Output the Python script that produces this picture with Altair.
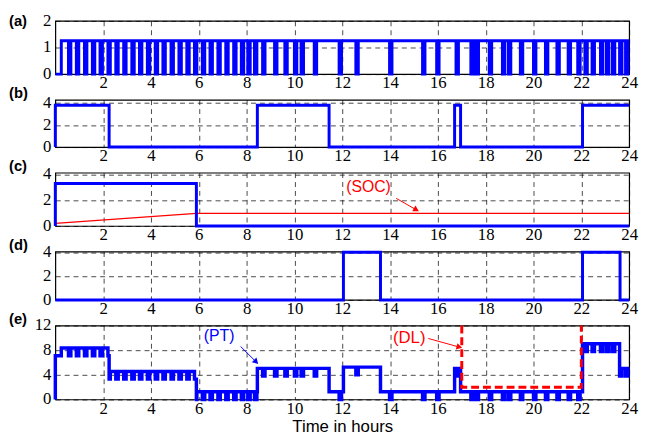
import math
import altair as alt
import pandas as pd

# ---------------- data ----------------
x_ticks = [2, 4, 6, 8, 10, 12, 14, 16, 18, 20, 22, 24]
ya_ticks = [0, 1, 2]
yb_ticks = [0, 2, 4]
yc_ticks = [0, 2, 4]
yd_ticks = [0, 2, 4]
ye_ticks = [0, 4, 8, 12]

# (a) on/off pulse train
a_on_start = 0.25
a_level = 1.25
a_dip = 0.1
a_off = [0.55, 0.88, 1.22, 1.55, 1.87, 2.2, 2.53, 2.86, 3.2, 3.52, 3.85, 4.18,
         4.5, 4.84, 5.17, 5.5, 5.82, 6.15, 6.47, 6.8, 7.13, 7.46, 7.78, 8.05,
         8.33, 8.67, 9.17, 9.6, 10.0, 10.28, 10.83, 11.87, 12.57, 13.98, 15.36,
         15.95, 16.76, 17.38, 17.6, 18.15, 18.7, 18.95, 19.45, 20.0, 20.5,
         20.98, 21.45, 21.85, 22.15, 22.45, 22.8, 23.05, 23.3, 23.6, 23.85]

# (b)
b_t = [0, 0, 2.25, 8.45, 11.45, 16.7, 16.95, 22.05, 24]
b_v = [0, 3.8, 0, 3.8, 0, 3.8, 0, 3.8, 3.8]

# (c) battery power and SOC
c_t = [0, 0, 5.9, 24]
c_v = [0, 3.3, 0, 0]
soc_t = [0, 5.9, 24]
soc_v = [0.2, 0.97, 0.97]

# (d)
d_t = [0, 12.05, 13.6, 22.05, 23.62, 24]
d_v = [0, 4, 0, 4, 0, 0]

# (e) total power PT (segment levels) and demand limit DL
pt_start = [0, 0.25, 2.25, 5.9, 8.45, 11.45, 12.05, 13.6, 16.7, 16.95, 22.05, 23.6]
pt_level = [7.1, 8.35, 4.55, 1.25, 5.05, 1.25, 5.25, 1.25, 5.05, 1.25, 9.05, 5.05]
pt_dip_depth = 1.25
dl_t = [17.0, 17.0, 22.0, 22.0]
dl_v = [12, 2.0, 2.0, 12]

# annotations
soc_label = ("(SOC)", 13.1, 3.0)
soc_arrow = (14.26, 2.14, 15.1, 1.25)
pt_label = ("(PT)", 6.85, 10.3)
pt_arrow = (7.75, 8.6, 8.4, 6.1)
dl_label = ("(DL)", 14.8, 10.0)
dl_arrow = (15.6, 9.9, 16.9, 8.5)
panel_names = ["(a)", "(b)", "(c)", "(d)", "(e)"]

# ---------------- build tables ----------------
W = 582
BLUE = "#0000FF"
RED = "#FF0000"
SERIF = "Liberation Serif"
SANS = "Liberation Sans"


def df_of(ts, vs):
    return pd.DataFrame({"t": ts, "v": vs, "i": list(range(len(ts)))})


def in_dip(t):
    return any(s <= t < s + a_dip for s in a_off)


# (a)
a_bp = sorted(set([0.0, a_on_start] + a_off + [s + a_dip for s in a_off]))
a_bp = [t for t in a_bp if t <= 24]
a_vals = [0.0 if (t < a_on_start or in_dip(t)) else a_level for t in a_bp]
a_bp.append(24.0)
a_vals.append(a_vals[-1])

# (e) PT
def seg_level(t):
    lev = pt_level[0]
    for s, l in zip(pt_start, pt_level):
        if t >= s:
            lev = l
    return lev

pt_bp = sorted(set(pt_start + [s for s in a_off] + [s + a_dip for s in a_off]))
pt_bp = [t for t in pt_bp if t < 24]
pt_vals = []
for t in pt_bp:
    v = seg_level(t)
    if t >= a_on_start and in_dip(t):
        v -= pt_dip_depth
    pt_vals.append(round(v, 3))
pt_t = [0.0] + pt_bp + [24.0]
pt_v = [0.0] + pt_vals + [pt_vals[-1]]


# ---------------- chart helpers ----------------
def x_enc(title=None):
    return alt.X("t:Q", scale=alt.Scale(domain=[0, 24], nice=False, zero=False),
                 axis=alt.Axis(values=x_ticks, grid=True, gridDash=[5, 4],
                               gridColor="black", gridWidth=0.8, gridOpacity=0.9,
                               ticks=False, domain=False, format="d",
                               labelFont=SERIF, labelFontSize=17,
                               labelColor="black", labelPadding=1,
                               labelFlush=False, labelOverlap=False,
                               title=title, titleFont=SANS,
                               titleFontSize=17, titleFontWeight="normal",
                               titleColor="black", titlePadding=2))


def y_enc(ymax, yvals):
    return alt.Y("v:Q", scale=alt.Scale(domain=[0, ymax], nice=False, zero=False),
                 axis=alt.Axis(values=yvals, grid=True, gridDash=[5, 4],
                               gridColor="black", gridWidth=0.8, gridOpacity=0.9,
                               ticks=False, domain=False, labels=False,
                               title=None))


def y_labels(yvals, Y):
    d = pd.DataFrame({"v": yvals, "lab": [str(v) for v in yvals]})
    return alt.Chart(d).mark_text(
        font=SERIF, fontSize=17, color="black", align="right",
        baseline="middle", clip=False).encode(
        y=Y, x=alt.value(-4), text="lab:N")


def step_line(df, X, Y, color, width, interp="step-after", dash=None):
    kw = dict(color=color, strokeWidth=width, interpolate=interp)
    if dash:
        kw["strokeDash"] = dash
    return alt.Chart(df).mark_line(**kw).encode(x=X, y=Y, order="i:Q")


def arrow(seg, X, Y, color, H, ymax):
    x1, y1, x2, y2 = seg
    d = pd.DataFrame({"t": [x1], "v": [y1], "t2": [x2], "v2": [y2]})
    rule = alt.Chart(d).mark_rule(color=color, strokeWidth=1).encode(
        x=X, y=Y, x2="t2:Q", y2="v2:Q")
    dx = (x2 - x1) * W / 24.0
    dy = -(y2 - y1) * H / ymax
    ang = math.degrees(math.atan2(dx, -dy)) % 360
    head = alt.Chart(pd.DataFrame({"t": [x2], "v": [y2]})).mark_point(
        shape="triangle-up", filled=True, size=45, color=color, opacity=1,
        angle=ang).encode(x=X, y=Y)
    return rule + head


def label_mark(lab, X, Y, color, size):
    txt, tx, ty = lab
    return alt.Chart(pd.DataFrame({"t": [tx], "v": [ty]})).mark_text(
        text=txt, color=color, font=SANS, fontSize=size,
        align="center", baseline="middle").encode(x=X, y=Y)


def panel_tag(name, dy):
    return alt.Chart(pd.DataFrame({"name": [name]})).mark_text(
        font=SANS, fontSize=15, fontWeight="bold", color="black",
        align="left", baseline="middle", clip=False).encode(
        text="name:N", x=alt.value(-47), y=alt.value(dy))


# ---------------- panels ----------------
Ha, Hb, Hc, Hd, He = 54, 48, 54, 49, 75
Ya, Yb, Yc, Yd, Ye = 2.0, 4.3, 4.13, 4.05, 12.0

X = x_enc()
Y = y_enc(Ya, ya_ticks)
pa = alt.layer(
    step_line(df_of(a_bp, a_vals), X, Y, BLUE, 3),
    y_labels(ya_ticks, Y),
    panel_tag(panel_names[0], 0),
).properties(width=W, height=Ha)

Y = y_enc(Yb, yb_ticks)
pb = alt.layer(
    step_line(df_of(b_t, b_v), X, Y, BLUE, 3),
    y_labels(yb_ticks, Y),
    panel_tag(panel_names[1], -7),
).properties(width=W, height=Hb)

Y = y_enc(Yc, yc_ticks)
pc = alt.layer(
    step_line(df_of(soc_t, soc_v), X, Y, RED, 1.2, interp="linear"),
    step_line(df_of(c_t, c_v), X, Y, BLUE, 3),
    label_mark(soc_label, X, Y, RED, 16),
    arrow(soc_arrow, X, Y, RED, Hc, Yc),
    y_labels(yc_ticks, Y),
    panel_tag(panel_names[2], -7),
).properties(width=W, height=Hc)

Y = y_enc(Yd, yd_ticks)
pd_ = alt.layer(
    step_line(df_of(d_t, d_v), X, Y, BLUE, 3),
    y_labels(yd_ticks, Y),
    panel_tag(panel_names[3], -7),
).properties(width=W, height=Hd)

Xe = x_enc("Time in hours")
Y = y_enc(Ye, ye_ticks)
pe = alt.layer(
    step_line(df_of(pt_t, pt_v), Xe, Y, BLUE, 3.5),
    step_line(df_of(dl_t, dl_v), Xe, Y, RED, 3, interp="linear", dash=[8, 4]),
    label_mark(pt_label, Xe, Y, BLUE, 16),
    arrow(pt_arrow, Xe, Y, BLUE, He, Ye),
    label_mark(dl_label, Xe, Y, RED, 17),
    arrow(dl_arrow, Xe, Y, RED, He, Ye),
    y_labels(ye_ticks, Y),
    panel_tag(panel_names[4], -7),
).properties(width=W, height=He)

chart = alt.vconcat(pa, pb, pc, pd_, pe, spacing=26, bounds="flush").properties(
    padding={"left": 0, "top": 0, "right": 0, "bottom": 0},
    background="white",
).configure_view(stroke="black", strokeWidth=1.2)

chart.save("out.html", embed_options={"renderer": "svg", "actions": False})
